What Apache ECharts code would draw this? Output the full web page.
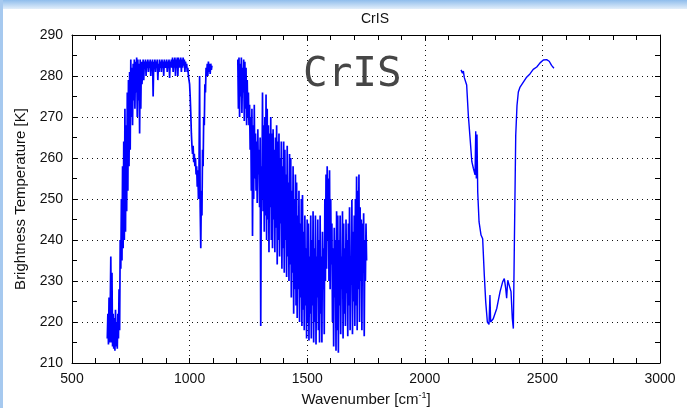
<!DOCTYPE html>
<html><head><meta charset="utf-8">
<script src="https://cdn.jsdelivr.net/npm/echarts@6/dist/echarts.min.js"></script>
<style>html,body{margin:0;padding:0;background:#fff}#c{width:687px;height:408px}</style>
</head><body><div id="c"></div><script>
// Band 1 (long-wave), regular channel grid
const band1Start = 650, band1Step = 2.5;
const band1BT = [
 216,222,214.5,226,215,223,236,215,232,214,
 222,213.5,221,213,223,214,220,213.5,222,216,
 228,218,240,233,250,235,258,238,264,240,
 272,242,268,247,276,252,279,258,281,262,
 284,270,282,268,283,274,284,272,283.5,276,
 284.5,270,284,274,283,266,284,272,283.5,278,
 281,284,279,283.5,282,284,280,283.5,282,284,
 281,283.5,282,284,280,283.5,282,284,275,283.5,
 282,284,281,283.5,282,284,279,283,281,284,
 282,283.5,281,284,282,283.5,280,284,282,283.5,
 282,284,281,283.5,282,284,279.5,283.5,282,284,
 282,284.5,281,284,282,284.5,280,284,282,284.5,
 280,284.5,282,284,282,284.5,281,284,282,284.5,
 282.5,284,281,283.5,282,283,281,282,280,279,
 278,275,271,266,263,261,263,259,261,258,
 260,256,258,253,257,250,256,280,248,238,
 252,246,262,258,270,268,278,276,282,280,
 283,280,283.5,281,283,280.5,283,281.5,282.5
];
// Band 2 (mid-wave)
const band2Start = 1205, band2Step = 2.5;
const band2BT = [
 284,272,284.5,270,283,275,284.5,271,282,276,
 284,269,283.5,272,282,268,279,270,276,268,
 273,262,270,252,272,241,268,250,273,255,
 266,252,264,249,267,256,262,248,265,219,
 258,250,276,247,268,242,270,246,275.5,240,
 272,245,268,237,266,248,270,240,266,238,
 267,245,262,237,265,243,268,234,264,240,
 266,236,260,244,264,233,258,238,264,232,
 262,240,256,231,263,236,254,230,261,234,
 260,226,252,232,258,222,250,228,256,224,
 254,221,246,228,252,220,244,226,250,219,
 251,223,242,218,246,224,238,216,245,220,
 244,215.5,236,222,246,216,240,224,247,215,
 238,220,246,214.5,236,226,245,218,240,215,
 246,222,236,215,242,228,238,217,250,230,
 256,233,258,240,255,230,257,228,250,234,
 244,220,238,214,243,226,240,213,247,218,
 246,212.5,240,224,246,217,236,228,247,216,
 244,222,238,219,245,227,240,216.5,244,224,
 248,218,236,229,249.8,217,242,225,246,219,
 250,224,255.5,218,252,228,256,220,248,230,
 245,218,244,232,246.5,216.5,240,230,244,235
];
// Band 3 (short-wave): [wavenumber, BT]
const band3 = [
 [2154,281.5],[2160,280.7],[2164,281.2],[2168,279.6],[2174,279.2],[2178,277.8],
 [2185,270.5],[2192,265.2],[2200,259.1],[2206.5,257.5],[2213.7,255.9],[2216.5,266.5],
 [2219,255],[2222,265.7],[2225,251.7],[2230.7,244.4],[2239,241.2],[2246,240.3],
 [2253,231.4],[2259,224.9],[2266,220],[2273,219.4],[2277,226.6],[2280,220],
 [2291,220.8],[2306,223.3],[2320,227.4],[2331,229.8],[2338,230.6],[2344,228.2],
 [2348,225.8],[2352.6,230.2],[2359.5,229.8],[2366.6,227.4],[2372,220.9],[2376.5,218.4],
 [2380.7,238.7],[2386.6,265.5],[2392,272.8],[2397.7,276.1],[2405,277.3],[2419,278.5],
 [2433,279.7],[2447,280.5],[2461,281.6],[2476,282.2],[2490,283.2],[2504,283.9],
 [2518,284],[2529,283.6],[2539,282.6],[2549,281.9]
];
const xTicks = [500,1000,1500,2000,2500,3000];
const yTicks = [210,220,230,240,250,260,270,280,290];

const band1 = band1BT.map((t,i)=>[band1Start+i*band1Step,t]);
const band2 = band2BT.map((t,i)=>[band2Start+i*band2Step,t]);

const FONT = 'Liberation Sans, Arial, sans-serif';
const chart = echarts.init(document.getElementById('c'), null, {renderer:'canvas'});
const tickStyle = {show:true, inside:true, length:5, lineStyle:{color:'#000',width:1}};
const minorStyle = {show:true, splitNumber:5, length:5, lineStyle:{color:'#000',width:1}};
const minorStyleY = {show:true, splitNumber:2, length:5, lineStyle:{color:'#000',width:1}};
const gridLine = {show:true, lineStyle:{color:'#111', width:1, type:[1,4]}};
const lineSeries = (d,w) => ({type:'line', data:d, showSymbol:false, symbol:'none', sampling:null,
  lineStyle:{color:'#0000ff', width:w}, xAxisIndex:0, yAxisIndex:0, z:3});
chart.setOption({
  animation:false,
  backgroundColor:'#ffffff',
  title:{text:'CrIS', left:370, top:7, textAlign:'center',
    textStyle:{fontFamily:FONT, fontSize:14, fontWeight:'normal', color:'#111'}},
  grid:{left:72, right:27, top:35, bottom:45, outerBoundsMode:'none', containLabel:false},
  xAxis:[{
    type:'value', min:xTicks[0], max:xTicks[xTicks.length-1], interval:500,
    position:'bottom',
    axisLine:{show:true, onZero:false, lineStyle:{color:'#000',width:1}},
    axisTick:tickStyle, minorTick:minorStyle, splitLine:gridLine,
    axisLabel:{fontFamily:FONT, fontSize:14, color:'#111', margin:9, formatter:v=>String(v)},
    name:'{a|Wavenumber [cm}{s|-1}{a|]}', nameLocation:'middle', nameGap:27,
    nameTextStyle:{rich:{a:{fontFamily:FONT,fontSize:15,color:'#111'},
      s:{fontFamily:FONT,fontSize:9,color:'#111',padding:[0,0,9,0]}}}
  },{
    type:'value', min:xTicks[0], max:xTicks[xTicks.length-1], interval:500,
    position:'top',
    axisLine:{show:true, onZero:false, lineStyle:{color:'#000',width:1}},
    axisTick:tickStyle, minorTick:minorStyle, splitLine:{show:false}, axisLabel:{show:false}
  }],
  yAxis:[{
    type:'value', min:yTicks[0], max:yTicks[yTicks.length-1], interval:10,
    position:'left',
    axisLine:{show:true, onZero:false, lineStyle:{color:'#000',width:1}},
    axisTick:tickStyle, minorTick:minorStyleY, splitLine:gridLine,
    axisLabel:{fontFamily:FONT, fontSize:14, color:'#111', margin:9},
    name:'Brightness Temperature [K]', nameLocation:'middle', nameGap:37, nameRotate:90,
    nameTextStyle:{fontFamily:FONT, fontSize:15, color:'#111'}
  },{
    type:'value', min:yTicks[0], max:yTicks[yTicks.length-1], interval:10,
    position:'right',
    axisLine:{show:true, onZero:false, lineStyle:{color:'#000',width:1}},
    axisTick:tickStyle, minorTick:minorStyleY, splitLine:{show:false}, axisLabel:{show:false}
  }],
  series:[lineSeries(band1,1.7), lineSeries(band2,1.7), lineSeries(band3,1.4)],
  graphic:[
    {type:'rect', left:0, top:0, shape:{width:687,height:9}, z:100,
      style:{fill:new echarts.graphic.LinearGradient(0,0,0,1,[{offset:0,color:'#8fbdec'},{offset:1,color:'#e2eefa'}])}},
    {type:'rect', left:0, top:0, shape:{width:3,height:408}, z:100, style:{fill:'#a6c9ef'}},
    {type:'text', left:303, top:55, z:50,
      style:{text:'CrIS', font:'41px "DejaVu Sans Mono", monospace', fill:'#464646'}}
  ]
});
</script></body></html>
